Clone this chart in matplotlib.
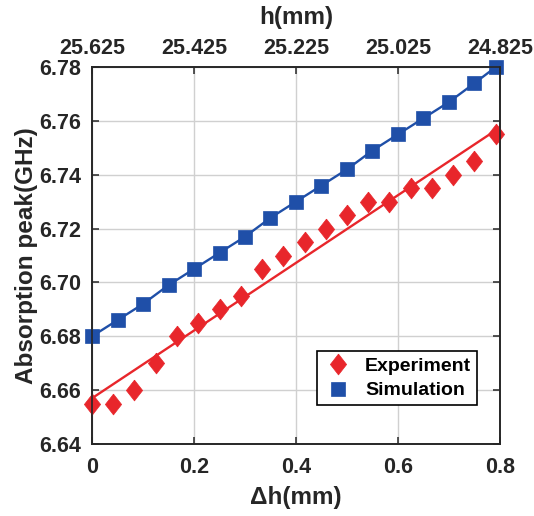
import numpy as np
import matplotlib
matplotlib.use("Agg")
import matplotlib.pyplot as plt

plt.rcParams['font.family'] = ['Liberation Sans', 'DejaVu Sans']
plt.rcParams['font.weight'] = 'bold'

# Data
exp_dh = [0.0, 0.0417, 0.0833, 0.125, 0.1667, 0.2083, 0.25, 0.2917, 0.3333, 0.375,
          0.4167, 0.4583, 0.5, 0.5417, 0.5833, 0.625, 0.6667, 0.7083, 0.75, 0.7917]
exp_peak = [6.655, 6.655, 6.660, 6.670, 6.680, 6.685, 6.690, 6.695, 6.705, 6.710,
            6.715, 6.720, 6.725, 6.730, 6.730, 6.735, 6.735, 6.740, 6.745, 6.755]
sim_dh = [0.0, 0.05, 0.10, 0.15, 0.20, 0.25, 0.30, 0.35, 0.40, 0.45,
          0.50, 0.55, 0.60, 0.65, 0.70, 0.75, 0.7917]
sim_peak = [6.680, 6.686, 6.692, 6.699, 6.705, 6.711, 6.717, 6.724, 6.730, 6.736,
            6.742, 6.749, 6.755, 6.761, 6.767, 6.774, 6.780]
bottom_ticks = [0, 0.2, 0.4, 0.6, 0.8]
bottom_labels = ['0', '0.2', '0.4', '0.6', '0.8']
top_labels = ['25.625', '25.425', '25.225', '25.025', '24.825']
y_ticks = [6.64, 6.66, 6.68, 6.70, 6.72, 6.74, 6.76, 6.78]
y_labels = ['6.64', '6.66', '6.68', '6.70', '6.72', '6.74', '6.76', '6.78']

RED = '#E8262B'
BLUE = '#1F4FA8'
TXT = '#262626'

fig = plt.figure(figsize=(5.34, 5.16), dpi=100)
ax = fig.add_axes([0.1723, 0.1395, 0.764, 0.7306])

# fitted line for experiment
coef = np.polyfit(exp_dh, exp_peak, 1)
xfit = np.array([exp_dh[0], exp_dh[-1]])
ax.plot(xfit, np.polyval(coef, xfit), color=RED, lw=1.7, zorder=3)

diamond = [(0, 1), (0.78, 0), (0, -1), (-0.78, 0), (0, 1)]
ax.plot(exp_dh, exp_peak, linestyle='none', marker=diamond, markersize=15,
        color=RED, markeredgecolor=RED, markeredgewidth=0.5, clip_on=False,
        zorder=4, label='Experiment')
ax.plot(sim_dh, sim_peak, color=BLUE, lw=1.7, zorder=3)
ax.plot(sim_dh, sim_peak, linestyle='none', marker='s', markersize=10,
        color=BLUE, markeredgewidth=0.5, clip_on=False, zorder=4, label='Simulation')

ax.set_xlim(0, 0.8)
ax.set_ylim(6.64, 6.78)
ax.set_xticks(bottom_ticks)
ax.set_xticklabels(bottom_labels)
ax.set_yticks(y_ticks)
ax.set_yticklabels(y_labels)
ax.grid(True, color='#D0D0D0', lw=1.0)
ax.set_axisbelow(True)
ax.tick_params(direction='in', length=5, width=1.1, labelsize=15.5, colors=TXT,
               right=True)
ax.tick_params(axis='x', pad=9)
ax.tick_params(axis='y', pad=8)
for s in ax.spines.values():
    s.set_linewidth(1.2)
    s.set_color(TXT)

ax.set_xlabel('Δh(mm)', fontsize=17.5, fontweight='bold', color=TXT, labelpad=6)
ax.set_ylabel('Absorption peak(GHz)', fontsize=17.5, fontweight='bold', color=TXT, labelpad=1)

ax2 = ax.twiny()
ax2.set_xlim(ax.get_xlim())
ax2.set_xticks(bottom_ticks)
ax2.set_xticklabels(top_labels)
ax2.tick_params(direction='in', length=5, width=1.1, labelsize=15.5, colors=TXT, pad=6)
ax2.set_xlabel('h(mm)', fontsize=17.5, fontweight='bold', color=TXT, labelpad=10)
for s in ax2.spines.values():
    s.set_linewidth(1.2)
    s.set_color(TXT)

leg = ax.legend(loc='lower right', bbox_to_anchor=(0.944, 0.103), fontsize=14,
                frameon=True, fancybox=False, edgecolor='black', framealpha=1,
                handletextpad=0.6, borderpad=0.3, labelspacing=0.35,
                handlelength=1.6, borderaxespad=0)
leg.get_frame().set_linewidth(1.2)
for t in leg.get_texts():
    t.set_color('black')

fig.savefig('out.png', dpi=100)
